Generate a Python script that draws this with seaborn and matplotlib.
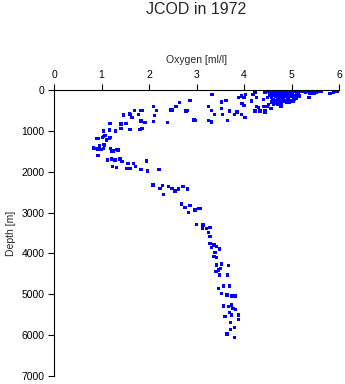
import matplotlib
matplotlib.use("Agg")
import matplotlib.pyplot as plt
import seaborn as sns
import pandas as pd

title = "JCOD in 1972"
x_label = "Oxygen [ml/l]"
y_label = "Depth [m]"
x_ticks = [0, 1, 2, 3, 4, 5, 6]
y_ticks = [0, 1000, 2000, 3000, 4000, 5000, 6000, 7000]

# upper band, O 0.8-3.1
oxy_a = [2.86, 2.64, 2.57, 2.48, 2.81, 2.09, 2.16, 2.11, 2.95, 2.39, 2.09, 1.85, 1.69, 1.60,
         1.64, 1.46, 1.52, 1.60, 1.41, 1.41, 1.83, 1.92, 1.81, 1.85, 1.78, 1.18, 1.17, 1.04,
         1.30, 0.90, 1.02, 1.07, 1.17, 1.10, 1.05, 0.83, 0.90, 1.00, 1.19, 1.25, 1.35, 0.96,
         1.59, 1.82, 2.78, 2.46]
dep_a = [261, 302, 408, 489, 506, 408, 506, 628, 734, 791, 775, 506, 506, 595,
         677, 612, 815, 963, 938, 832, 759, 791, 963, 938, 595, 815, 979, 1003,
         1003, 1183, 1166, 1117, 1183, 1224, 1330, 1427, 1427, 1452, 1427, 1492, 1468, 1370,
         588, 506, 514, 490]

# upper band, O 3.0-4.5
oxy_b = [3.33, 3.53, 3.62, 3.88, 3.95, 4.03, 4.00, 3.96, 4.00, 4.02, 3.95, 3.80, 3.85, 3.70,
         3.53, 3.31, 3.25, 3.38, 3.55, 3.25, 3.31, 3.65, 2.97, 4.16, 4.19, 4.23, 4.26, 4.30,
         4.41, 4.44, 4.23, 4.34, 4.44, 4.48, 4.41, 4.51, 4.26]
dep_b = [106, 294, 253, 187, 147, 106, 187, 326, 375, 677, 596, 596, 538, 514,
         457, 497, 408, 596, 596, 743, 783, 743, 743, 269, 106, 65, 187, 432,
         228, 65, 514, 514, 555, 400, 400, 24, 400]

# surface cluster, O 4.4-6.0
oxy_c = [4.48, 4.53, 4.65, 4.72, 4.79, 4.86, 4.93, 5.04, 5.11, 4.58, 4.69, 4.79, 4.90, 5.00,
         5.11, 4.65, 4.76, 4.86, 4.97, 5.07, 4.58, 4.71, 4.83, 4.93, 5.04, 5.11, 4.62, 4.76,
         4.86, 4.97, 4.65, 4.72, 4.58, 4.50, 4.55, 4.90, 4.79, 5.04, 4.51, 4.62, 4.57, 4.44,
         5.22, 5.29, 5.35, 5.42, 5.49, 5.55, 5.25, 5.39, 5.37, 5.48, 5.81, 5.88, 5.95, 6.00,
         4.69, 4.76, 4.62,
         4.60, 4.68, 4.75, 4.83, 4.90, 4.97, 5.08, 4.63, 4.73, 4.82, 4.95, 5.02, 5.14,
         4.67, 4.80, 4.88, 5.00, 5.09, 4.60, 4.74, 4.81, 4.92, 5.06, 4.70, 4.84, 4.95,
         4.56, 4.66, 4.78, 5.16, 5.18, 5.30, 5.45, 5.52, 5.62]
dep_c = [24, 0, 0, 0, 0, 0, 0, 0, 0, 65, 65, 65, 65, 65,
         65, 130, 130, 130, 130, 130, 187, 187, 187, 187, 187, 212, 245, 245,
         269, 269, 310, 351, 294, 187, 106, 310, 310, 269, 359, 359, 457, 514,
         40, 65, 24, 49, 40, 24, 24, 82, 187, 82, 82, 49, 24, 24,
         326, 343, 245,
         30, 35, 30, 35, 30, 35, 30, 100, 100, 100, 100, 100, 100,
         160, 160, 160, 160, 160, 230, 220, 225, 225, 225, 280, 285, 290,
         140, 260, 390, 150, 20, 45, 70, 60, 40]

# minimum zone, 1100-2000 m
oxy_d = [0.93, 1.04, 1.18, 0.83, 0.93, 1.04, 1.06, 1.21, 1.32, 0.93, 1.13, 1.21, 1.28, 1.39,
         1.43, 1.23, 1.32, 1.56, 1.67, 1.71, 1.53, 1.60, 1.83, 1.95, 1.97, 2.21]
dep_d = [1183, 1142, 1166, 1411, 1444, 1427, 1346, 1493, 1452, 1607, 1713, 1688, 1713, 1688,
         1753, 1876, 1893, 1795, 1795, 1876, 1917, 1917, 1941, 1737, 1982, 1941]

# deep water, 2300-4200 m
oxy_e = [2.08, 2.23, 2.29, 2.30, 2.41, 2.48, 2.55, 2.62, 2.72, 2.81, 2.69, 2.76, 2.86, 2.83,
         2.97, 3.04, 3.07, 3.00, 3.14, 3.13, 3.21, 3.28, 3.25, 3.28, 3.28, 3.37, 3.32, 3.42,
         3.48, 3.39, 3.37, 3.42]
dep_e = [2325, 2406, 2341, 2553, 2365, 2406, 2471, 2422, 2365, 2422, 2789, 2870, 2830, 2993,
         2936, 2896, 2896, 3287, 3303, 3385, 3385, 3369, 3483, 3581, 3751, 3793, 3858, 3834,
         3891, 3972, 4078, 4103]

# bottom water, 4200-6100 m
oxy_f = [3.42, 3.53, 3.67, 3.46, 3.49, 3.65, 3.46, 3.57, 3.69, 3.53, 3.64, 3.74, 3.81, 3.57,
         3.67, 3.74, 3.77, 3.82, 3.69, 3.74, 3.88, 3.60, 3.88, 3.72, 3.71, 3.80, 3.64, 3.80,
         3.50, 3.41]
dep_f = [4282, 4258, 4299, 4405, 4527, 4527, 4853, 4796, 4796, 4975, 5016, 5040, 5040, 5285,
         5301, 5260, 5342, 5366, 5448, 5505, 5505, 5546, 5611, 5693, 5856, 5815, 5970, 6052,
         4364, 4445]

oxygen = oxy_a + oxy_b + oxy_c + oxy_d + oxy_e + oxy_f
depth = dep_a + dep_b + dep_c + dep_d + dep_e + dep_f
df = pd.DataFrame({"oxygen": oxygen, "depth": depth})

sns.set_theme(style="white")
plt.rcParams["font.family"] = ["Liberation Sans", "DejaVu Sans"]

W, H = 345, 384
fig = plt.figure(figsize=(W / 100, H / 100), dpi=100, facecolor="white")
ax = fig.add_axes([54 / W, 1 - 376 / H, (339 - 54) / W, (376 - 90) / H])

sns.scatterplot(data=df, x="oxygen", y="depth", ax=ax, marker="s", s=6,
                color="#0000ff", edgecolor="none", linewidth=0)

ax.set_xlim(0, 6)
ax.set_ylim(7000, 0)
ax.set_xticks(x_ticks)
ax.set_yticks(y_ticks)
ax.xaxis.set_ticks_position("top")
ax.xaxis.set_label_position("top")
ax.tick_params(axis="both", which="both", direction="out", length=4, width=0.8,
               color="black", labelsize=7.5, labelcolor="black", pad=3)
ax.tick_params(axis="x", bottom=False, top=True, labelbottom=False, labeltop=True)
ax.tick_params(axis="y", left=True, right=False)
for side in ["right", "bottom"]:
    ax.spines[side].set_visible(False)
for side in ["top", "left"]:
    ax.spines[side].set_visible(True)
    ax.spines[side].set_color("black")
    ax.spines[side].set_linewidth(0.8)
ax.set_xlabel(x_label, fontsize=7.5, labelpad=5)
ax.set_ylabel(y_label, fontsize=7.5, labelpad=4)
ax.set_facecolor("white")
ax.grid(False)

fig.text(196.5 / W, 1 - 9 / H, title, ha="center", va="center", fontsize=11.5)

fig.savefig("out.png", dpi=100, facecolor="white")
